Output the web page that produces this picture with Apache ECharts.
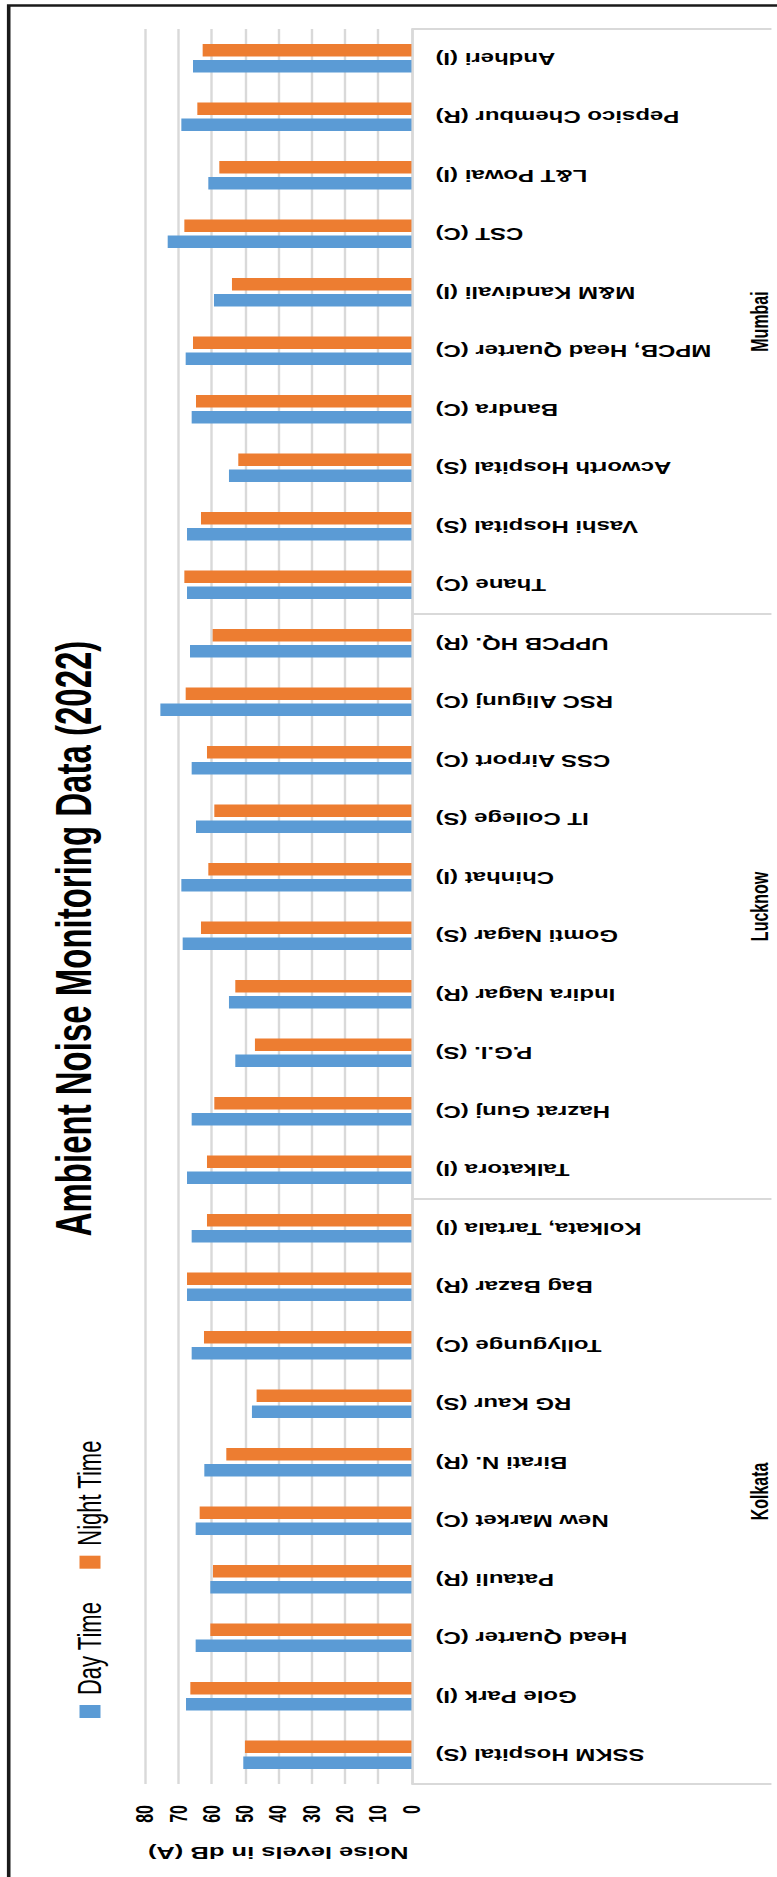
<!DOCTYPE html>
<html>
<head>
<meta charset="utf-8">
<title>Ambient Noise Monitoring Data (2022)</title>
<script src="https://cdn.jsdelivr.net/npm/echarts@6/dist/echarts.min.js"></script>
<style>
  html, body { margin: 0; padding: 0; background: #fff; }
  body { width: 777px; height: 1877px; overflow: hidden; position: relative; }
  /* The column chart is laid out landscape and turned a quarter turn
     counter-clockwise onto the tall page, stretched along its value direction. */
  #chart {
    position: absolute; left: 0; top: 0;
    width: 1877px; height: 518px;
    transform-origin: 0 0;
    transform: matrix(0, -1, 1.5, 0, 0, 1877);
  }
</style>
</head>
<body>
<div id="chart"></div>
<script>
// Monitoring stations, ten per city
const categories = [
  'SSKM Hospital (S)', 'Gole Park (I)', 'Head Quarter (C)', 'Patauli (R)', 'New Market (C)',
  'Birati N. (R)', 'RG Kaur (S)', 'Tollygunge (C)', 'Bag Bazar (R)', 'Kolkata, Tartala (I)',
  'Talkatora (I)', 'Hazrat Gunj (C)', 'P.G.I. (S)', 'Indira Nagar (R)', 'Gomti Nagar (S)',
  'Chinhat (I)', 'IT College (S)', 'CSS Airport (C)', 'RSC Aligunj (C)', 'UPPCB HQ. (R)',
  'Thane (C)', 'Vashi Hospital (S)', 'Acworth Hospital (S)', 'Bandra (C)', 'MPCB, Head Quarter (C)',
  'M&M Kandivali (I)', 'CST (C)', 'L&T Powai (I)', 'Pepsico Chembur (R)', 'Andheri (I)'
];
const cities = ['Kolkata', 'Lucknow', 'Mumbai'];

// Noise levels, dB(A)
const dayTime = [
  50.5, 67.7, 64.8, 60.4, 64.8, 62.2, 47.9, 66.0, 67.4, 66.0,
  67.4, 66.0, 52.9, 54.8, 68.7, 69.1, 64.7, 66.0, 75.4, 66.5,
  67.4, 67.4, 54.8, 66.0, 67.8, 59.3, 73.2, 61.0, 69.1, 65.6
];
const nightTime = [
  50.0, 66.4, 60.4, 59.6, 63.6, 55.6, 46.5, 62.3, 67.4, 61.4,
  61.4, 59.2, 47.0, 52.9, 63.2, 61.0, 59.2, 61.4, 67.8, 59.7,
  68.2, 63.2, 52.0, 64.7, 65.6, 53.9, 68.2, 57.7, 64.3, 62.7
];
const noiseTicks = [0, 10, 20, 30, 40, 50, 60, 70, 80];

const W = 1877, H = 518;
const FONT = '"Liberation Sans", Arial, Helvetica, sans-serif';
const GRID_COLOR = '#d9d9d9';

const chart = echarts.init(document.getElementById('chart'), null, {
  renderer: 'svg', width: W, height: H
});

chart.setOption({
  animation: false,
  backgroundColor: '#fff',
  textStyle: { fontFamily: FONT },
  title: {
    text: 'Ambient Noise Monitoring Data (2022)',
    left: 'center',
    top: 28,
    textStyle: { fontFamily: FONT, fontSize: 33, fontWeight: 'bold', color: '#000' }
  },
  legend: {
    left: 154,
    top: 44,
    icon: 'rect',
    itemWidth: 13,
    itemHeight: 14,
    itemGap: 33,
    textStyle: { fontFamily: FONT, fontSize: 22, color: '#000', padding: [0, 0, 0, 5] },
    data: ['Day Time', 'Night Time']
  },
  grid: { left: 93, right: 29, top: 96.7, bottom: 243.7 },
  xAxis: [
    {
      type: 'category',
      data: categories,
      position: 'bottom',
      axisLine: { show: true, lineStyle: { color: GRID_COLOR, width: 1.6 } },
      axisTick: { show: false },
      axisLabel: {
        interval: 0,
        rotate: 90,
        margin: 16,
        fontFamily: FONT,
        fontSize: 16,
        fontWeight: 'bold',
        color: '#000'
      }
    },
    {
      // City level of the two-level category axis
      type: 'category',
      data: cities,
      position: 'bottom',
      gridIndex: 0,
      axisLine: { show: false },
      axisTick: { show: true, length: 240, lineStyle: { color: GRID_COLOR, width: 2 } },
      axisLabel: {
        interval: 0,
        margin: 224,
        fontFamily: FONT,
        fontSize: 16,
        fontWeight: 'bold',
        color: '#000'
      },
      splitLine: { show: false }
    }
  ],
  yAxis: {
    type: 'value',
    min: noiseTicks[0],
    max: noiseTicks[noiseTicks.length - 1],
    interval: noiseTicks[1] - noiseTicks[0],
    name: 'Noise levels in dB (A)',
    nameLocation: 'middle',
    nameRotate: 90,
    nameGap: 60,
    nameTextStyle: { fontFamily: FONT, fontSize: 17, fontWeight: 'bold', color: '#000' },
    axisLine: { show: false },
    axisTick: { show: false },
    axisLabel: { margin: 21, fontFamily: FONT, fontSize: 16, fontWeight: 'bold', color: '#000' },
    splitLine: { lineStyle: { color: GRID_COLOR, width: 1.6 } }
  },
  series: [
    {
      name: 'Day Time',
      type: 'bar',
      xAxisIndex: 0,
      data: dayTime,
      barWidth: 12.7,
      barGap: '26%',
      itemStyle: { color: '#5B9BD5' }
    },
    {
      name: 'Night Time',
      type: 'bar',
      xAxisIndex: 0,
      data: nightTime,
      barWidth: 12.7,
      barGap: '26%',
      itemStyle: { color: '#ED7D31' }
    }
  ],
  graphic: [
    // chart frame
    {
      type: 'polyline',
      silent: true,
      shape: { points: [[0, 5.8], [1871.5, 5.8], [1871.5, H]] },
      style: { stroke: '#1a1a1a', lineWidth: 2.4, fill: null }
    }
  ]
});
</script>
</body>
</html>
